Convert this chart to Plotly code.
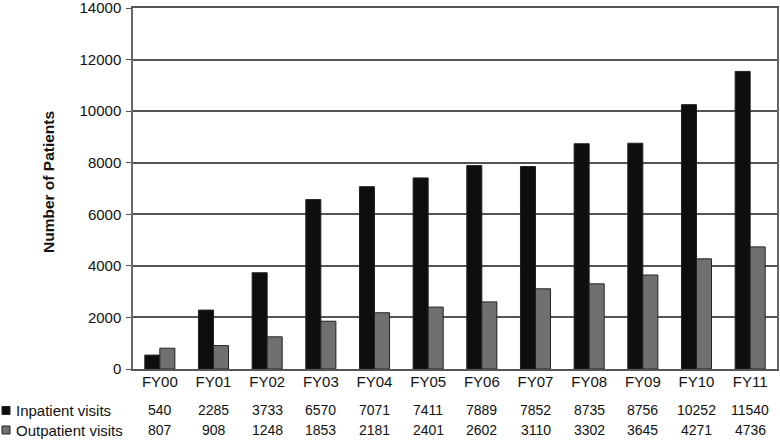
import plotly.graph_objects as go

categories = ["FY00", "FY01", "FY02", "FY03", "FY04", "FY05", "FY06", "FY07", "FY08", "FY09", "FY10", "FY11"]
inpatient = [540, 2285, 3733, 6570, 7071, 7411, 7889, 7852, 8735, 8756, 10252, 11540]
outpatient = [807, 908, 1248, 1853, 2181, 2401, 2602, 3110, 3302, 3645, 4271, 4736]
series_names = ["Inpatient visits", "Outpatient visits"]
y_ticks = [0, 2000, 4000, 6000, 8000, 10000, 12000, 14000]
y_tick_labels = ["0", "2000", "4000", "6000", "8000", "10000", "12000", "14000"]

W, H = 780, 447
ML, MR, MT, MB = 133, 3, 8, 78
PW = W - ML - MR
PH = H - MT - MB
FONT = "Liberation Sans, Arial, sans-serif"
BLACK = "#0e0e0e"
GRAY = "#707070"


def px_x(x):
    return (x - ML) / PW


def px_y(y):
    return (H - MB - y) / PH


fig = go.Figure()
fig.add_trace(go.Bar(x=categories, y=inpatient, name=series_names[0],
                     marker=dict(color=BLACK, line=dict(color="#222222", width=1))))
fig.add_trace(go.Bar(x=categories, y=outpatient, name=series_names[1],
                     marker=dict(color=GRAY, line=dict(color="#222222", width=1))))

annotations = []
shapes = []
rows = [(inpatient, 410.5, BLACK), (outpatient, 430, GRAY)]
for (vals, ypix, col), name in zip(rows, series_names):
    for c, v in zip(categories, vals):
        annotations.append(dict(x=c, xref="x", y=px_y(ypix), yref="paper", text=str(v),
                                showarrow=False, font=dict(family=FONT, size=14, color="#111"),
                                xanchor="center", yanchor="middle"))
    annotations.append(dict(x=px_x(14), xref="paper", y=px_y(ypix), yref="paper", text=name,
                            showarrow=False, font=dict(family=FONT, size=15, color="#111"),
                            xanchor="left", yanchor="middle"))
    shapes.append(dict(type="rect", xref="paper", yref="paper",
                       x0=px_x(2), x1=px_x(10), y0=px_y(ypix - 4), y1=px_y(ypix + 4),
                       fillcolor=col, line=dict(color="#222", width=1)))

annotations.append(dict(x=px_x(49), xref="paper", y=px_y(182), yref="paper",
                        text="<b>Number of Patients</b>", textangle=-90, showarrow=False,
                        font=dict(family=FONT, size=15.5, color="#111"),
                        xanchor="center", yanchor="middle"))

fig.update_layout(
    width=W, height=H,
    margin=dict(l=ML, r=MR, t=MT, b=MB, autoexpand=False),
    paper_bgcolor="white", plot_bgcolor="white",
    barmode="group", bargap=0.44, bargroupgap=0,
    showlegend=False,
    font=dict(family=FONT, color="#111"),
    annotations=annotations, shapes=shapes,
)
fig.update_xaxes(showline=True, linecolor="#555", linewidth=1.5, mirror=True,
                 ticks="", tickfont=dict(size=15, family=FONT, color="#111"),
                 ticklabelstandoff=-2, showgrid=False, automargin=False)
fig.update_yaxes(range=[0, 14000], tickvals=y_ticks, ticktext=y_tick_labels,
                 showline=True, linecolor="#666",
                 linewidth=1.5, mirror=True, ticks="outside", ticklen=5, tickcolor="#555",
                 tickfont=dict(size=15, family=FONT, color="#111"),
                 ticklabeloverflow="allow", ticklabelstandoff=2, automargin=False,
                 showgrid=True, gridcolor="#555", gridwidth=1.5, zeroline=False)

fig.write_html("out.html", config={"displayModeBar": False},
               post_script="document.body.style.margin='0';")
